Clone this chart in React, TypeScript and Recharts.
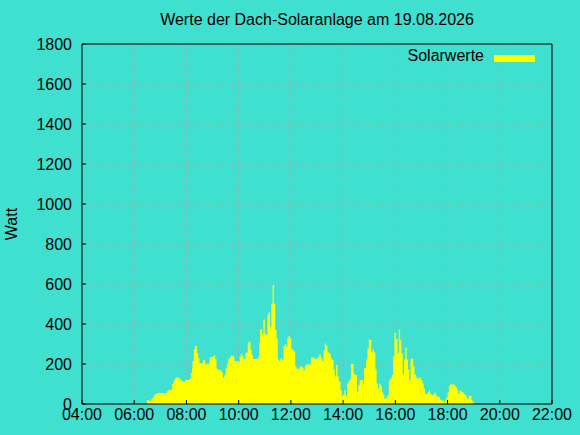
import { AreaChart, Area, XAxis, YAxis, CartesianGrid, Legend } from "recharts"

const times = [
    "06:25", "06:29", "06:34", "06:38", "06:42", "06:45", "06:48", "06:53", "07:08", "07:13",
    "07:16", "07:19", "07:22", "07:27", "07:30", "07:33", "07:36", "07:44", "07:48", "07:53",
    "07:57", "08:07", "08:10", "08:13", "08:14", "08:17", "08:20", "08:24", "08:27", "08:30",
    "08:33", "08:38", "08:43", "08:47", "08:53", "08:56", "09:02", "09:06", "09:09", "09:12",
    "09:15", "09:18", "09:21", "09:24", "09:27", "09:30", "09:33", "09:36", "09:39", "09:42",
    "09:47", "09:50", "09:59", "10:02", "10:05", "10:08", "10:11", "10:15", "10:18", "10:21",
    "10:24", "10:27", "10:30", "10:33", "10:44", "10:47", "10:49", "10:54", "10:57", "11:00",
    "11:03", "11:06", "11:09", "11:12", "11:15", "11:18", "11:21", "11:24", "11:27", "11:30",
    "11:33", "11:36", "11:40", "11:43", "11:46", "11:49", "11:52", "11:55", "11:58", "12:01",
    "12:04", "12:07", "12:10", "12:13", "12:16", "12:19", "12:22", "12:25", "12:29", "12:32",
    "12:35", "12:46", "12:55", "13:00", "13:05", "13:09", "13:12", "13:15", "13:18", "13:21",
    "13:24", "13:29", "13:32", "13:35", "13:38", "13:41", "13:44", "13:47", "13:50", "13:54",
    "13:57", "14:00", "14:03", "14:06", "14:09", "14:12", "14:15", "14:18", "14:24", "14:27",
    "14:32", "14:35", "14:38", "14:46", "14:48", "14:50", "14:53", "14:56", "14:59", "15:02",
    "15:05", "15:08", "15:11", "15:14", "15:17", "15:20", "15:23", "15:26", "15:29", "15:32",
    "15:35", "15:38", "15:42", "15:45", "15:48", "15:52", "15:55", "15:58", "16:01", "16:05",
    "16:08", "16:11", "16:14", "16:17", "16:20", "16:23", "16:26", "16:29", "16:32", "16:35",
    "16:38", "16:41", "16:44", "16:48", "16:51", "16:56", "16:59", "17:02", "17:05", "17:08",
    "17:14", "17:17", "17:20", "17:23", "17:27", "17:30", "17:33", "17:36", "17:39", "17:42",
    "17:45", "17:51", "17:54", "17:57", "18:00", "18:03", "18:06", "18:09", "18:13", "18:16",
    "18:19", "18:22", "18:25", "18:28", "18:31", "18:34", "18:37", "18:40", "18:43", "18:46",
    "18:49", "18:55", "18:58", "19:02",
]

const watts = [
    0, 20, 15, 22, 32, 42, 50, 55, 53, 56,
    65, 73, 70, 100, 115, 127, 133, 125, 115, 110,
    120, 125, 155, 180, 215, 275, 290, 255, 230, 203,
    205, 220, 198, 202, 233, 235, 242, 225, 178, 170,
    173, 167, 157, 132, 145, 178, 203, 225, 233, 242,
    237, 215, 208, 237, 250, 240, 225, 253, 258, 307,
    310, 270, 245, 225, 232, 307, 373, 350, 423, 353,
    345, 445, 457, 387, 503, 595, 503, 370, 328, 223,
    212, 228, 220, 290, 300, 287, 333, 340, 328, 273,
    270, 262, 187, 178, 173, 183, 190, 183, 167, 190,
    198, 233, 225, 233, 248, 233, 215, 267, 303, 290,
    257, 248, 228, 220, 173, 137, 195, 137, 112, 70,
    40, 48, 70, 40, 103, 112, 123, 200, 153, 145,
    62, 95, 120, 100, 180, 178, 223, 278, 323, 320,
    257, 273, 258, 173, 103, 78, 103, 90, 62, 45,
    25, 33, 45, 115, 128, 145, 240, 357, 325, 253,
    373, 320, 253, 150, 223, 283, 223, 173, 120, 223,
    228, 187, 148, 133, 128, 133, 120, 103, 78, 50,
    57, 67, 50, 45, 50, 57, 45, 33, 37, 23,
    17, 12, 20, 33, 57, 90, 100, 95, 100, 90,
    83, 67, 50, 67, 62, 57, 50, 45, 33, 28,
    40, 17, 7, 0,
]

const xTicks = ["04:00", "06:00", "08:00", "10:00", "12:00", "14:00", "16:00", "18:00", "20:00", "22:00"]
const yTicks = [0, 200, 400, 600, 800, 1000, 1200, 1400, 1600, 1800]

const toMin = (s: string) => {
    const [h, m] = s.split(":").map(Number)
    return h * 60 + m
}
const fmt = (v: number) =>
    `${String(Math.floor(v / 60)).padStart(2, "0")}:${String(v % 60).padStart(2, "0")}`

const data = times.map((s, i) => ({ t: toMin(s), w: watts[i] }))
const xTickMins = xTicks.map(toMin)
const xDomain = [xTickMins[0], xTickMins[xTickMins.length - 1]]

const FONT = '"Liberation Sans", Arial, sans-serif'
const tickStyle = { fill: "#000", fontSize: 16, fontFamily: FONT }
const line = { stroke: "#000", strokeWidth: 1 }

function LegendBox() {
    return (
        <div style={{ display: "flex", alignItems: "center", height: 20, fontFamily: FONT, fontSize: 16, color: "#000" }}>
            <span style={{ width: 80, textAlign: "right" }}>Solarwerte</span>
            <span style={{ marginLeft: 10, width: 41, height: 7, background: "#ffff00", position: "relative", top: 2 }} />
        </div>
    )
}

export default function App() {
    return (
        <div style={{ position: "absolute", left: 0, top: 0, width: 580, height: 435, background: "#40e0d0", fontFamily: FONT }}>
            <div
                style={{
                    position: "absolute",
                    left: 82,
                    width: 470,
                    top: 12,
                    lineHeight: "16px",
                    fontSize: 16,
                    textAlign: "center",
                    color: "#000",
                }}
            >
                Werte der Dach-Solaranlage am 19.08.2026
            </div>
            <div
                style={{
                    position: "absolute",
                    left: 12,
                    top: 224,
                    transform: "translate(-50%, -50%) rotate(-90deg)",
                    fontSize: 16,
                    lineHeight: "16px",
                    color: "#000",
                    whiteSpace: "nowrap",
                }}
            >
                Watt
            </div>
            <AreaChart width={580} height={435} data={data} margin={{ top: 14, right: 0, bottom: 0, left: 0 }}>
                <CartesianGrid stroke="#c0a0a0" strokeDasharray="2 3" />
                <XAxis
                    dataKey="t"
                    type="number"
                    domain={xDomain}
                    ticks={xTickMins}
                    tickFormatter={fmt}
                    allowDataOverflow
                    height={31}
                    tickSize={-4}
                    tickMargin={9}
                    tick={tickStyle}
                    axisLine={line}
                    tickLine={line}
                />
                <XAxis
                    xAxisId="top"
                    orientation="top"
                    dataKey="t"
                    type="number"
                    domain={xDomain}
                    ticks={xTickMins}
                    allowDataOverflow
                    height={30}
                    tickSize={-4}
                    tick={false}
                    axisLine={line}
                    tickLine={line}
                />
                <YAxis
                    type="number"
                    domain={[0, 1800]}
                    ticks={yTicks}
                    allowDataOverflow
                    width={82}
                    tickSize={-4}
                    tickMargin={14}
                    tick={tickStyle}
                    axisLine={line}
                    tickLine={line}
                />
                <YAxis
                    yAxisId="right"
                    orientation="right"
                    type="number"
                    domain={[0, 1800]}
                    ticks={yTicks}
                    allowDataOverflow
                    width={28}
                    tickSize={-4}
                    tick={false}
                    axisLine={line}
                    tickLine={line}
                />
                <Legend
                    layout="horizontal"
                    verticalAlign="middle"
                    align="center"
                    wrapperStyle={{ left: 404, top: 46, width: 140, height: 20 }}
                    content={() => <LegendBox />}
                />
                <Area
                    dataKey="w"
                    type="stepAfter"
                    stroke="none"
                    fill="#ffff00"
                    fillOpacity={1}
                    dot={false}
                    activeDot={false}
                    isAnimationActive={false}
                />
            </AreaChart>
        </div>
    )
}
